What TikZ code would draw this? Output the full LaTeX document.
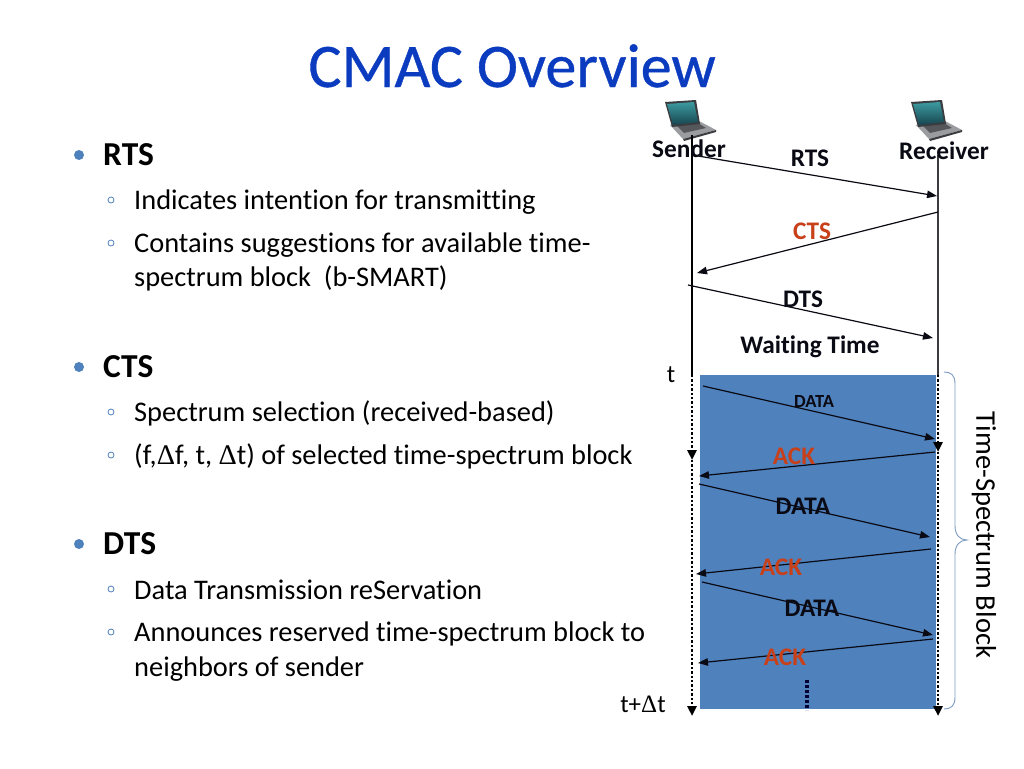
\documentclass[tikz,border=0pt]{standalone}
\usepackage{fontspec}
\setmainfont[Ligatures=NoCommon]{Carlito}
\newfontfamily\deltafont{Liberation Serif}
\newfontfamily\titlefont[Ligatures=NoCommon,FakeBold=0.6]{Carlito}
\usetikzlibrary{arrows.meta}
\definecolor{titleblue}{HTML}{0B3CC0}
\definecolor{blockblue}{HTML}{4F81BD}
\definecolor{ackred}{HTML}{C8401A}
\definecolor{bracegray}{HTML}{7F9CC4}
\definecolor{inkblack}{HTML}{0A0A14}
\definecolor{lapscreen}{HTML}{3C9AA0}
\definecolor{lapscreenb}{HTML}{17454F}
\definecolor{lapbase}{HTML}{9A9C9F}
\definecolor{lapkeys}{HTML}{55575B}
\definecolor{lapdark}{HTML}{3A3C40}
\newcommand{\sz}[1]{\fontsize{#1}{#1}\selectfont}
\newcommand{\dlt}{{\deltafont Δ}}
\tikzset{
  x=1pt,y=-1pt,
  head/.style={inner sep=0,anchor=base west,font=\sz{33.5}\bfseries},
  sub/.style={inner sep=0,anchor=base west,font=\sz{28.4}},
  lab/.style={inner sep=0,anchor=center,font=\sz{25.3}\bfseries,text=inkblack},
  acklab/.style={lab,text=ackred},
  msg/.style={-{Triangle[length=10pt,width=7.5pt]},line width=1.2pt,draw=inkblack},
  life/.style={line width=1.2pt,draw=black},
  lifedash/.style={line width=2.6pt,draw=black,dash pattern=on 2.4pt off 2pt,
    -{Triangle[length=10pt,width=9pt]}},
  big/.style={circle,fill=blockblue,inner sep=0,minimum size=10pt},
  small/.style={circle,draw=blockblue,line width=.8pt,inner sep=0,minimum size=6pt},
}
\newcommand{\laptop}[1]{%
  \begin{scope}[xshift=#1]
    \fill[lapbase] (670,125) -- (699,121) -- (716,130) -- (683,139) -- cycle;
    \fill[lapkeys] (677,126) -- (698,123) -- (706,128) -- (684,133) -- cycle;
    \fill[lapdark] (683,139) -- (716,130) -- (716,132) -- (684,141) -- cycle;
    \fill[lapdark] (665,102) -- (696,100) -- (700,124) -- (672,127) -- cycle;
    \shade[top color=lapscreen,bottom color=lapscreenb] (667,104) -- (694,102) -- (698,122) -- (673,125) -- cycle;
  \end{scope}}
\begin{document}
\begin{tikzpicture}
\useasboundingbox (0,0) rectangle (1024,768);
\fill[white] (0,0) rectangle (1024,768);
\node[inner sep=0,anchor=base,font=\titlefont\sz{62},text=titleblue] (title) at (512,87) {CMAC Overview};

% left column
\node[big] (b1) at (79,155) {};
\node[head] (h1) at (103,165) {RTS};
\node[small] (s11) at (111,200) {};
\node[sub] (t11) at (134,209) {Indicates intention for transmitting};
\node[small] (s12) at (111,243) {};
\node[sub] (t12) at (134,252) {Contains suggestions for available time-};
\node[sub] (t13) at (134,286) {spectrum block\ \ (b-SMART)};
\node[big] (b2) at (79,367) {};
\node[head] (h2) at (103,377) {CTS};
\node[small] (s21) at (111,412) {};
\node[sub] (t21) at (134,421) {Spectrum selection (received-based)};
\node[small] (s22) at (111,455) {};
\node[sub] (t22) at (134,464) {(f,\dlt f, t, \dlt t) of selected time-spectrum block};
\node[big] (b3) at (79,544) {};
\node[head] (h3) at (103,554) {DTS};
\node[small] (s31) at (111,589) {};
\node[sub] (t31) at (134,599) {Data Transmission reServation};
\node[small] (s32) at (111,632) {};
\node[sub] (t32) at (134,641) {Announces reserved time-spectrum block to};
\node[sub] (t33) at (134,676) {neighbors of sender};

% blue block
\fill[blockblue] (700,375) rectangle (936,709);

% laptops
\laptop{0pt}
\laptop{246pt}

% life lines
\coordinate (sTop) at (692,135);
\coordinate (sT) at (692,375);
\coordinate (sMid) at (692,460);
\coordinate (sEnd) at (692,716);
\coordinate (rTop) at (938,155);
\coordinate (rT) at (938,375);
\coordinate (rMid) at (938,452);
\coordinate (rEnd) at (938,716);
\draw[life] (sTop) -- (sT);
\draw[life,draw=lapdark] (rTop) -- (rT);
\draw[lifedash] (sT) -- (sMid);
\draw[lifedash] (rT) -- (rMid);
\draw[lifedash] (sMid) -- (sEnd);
\draw[lifedash] (rMid) -- (rEnd);

% messages
\coordinate (a1) at (692,155); \coordinate (a2) at (937,196);
\coordinate (a3) at (938,212); \coordinate (a4) at (697,273);
\coordinate (a5) at (688,285); \coordinate (a6) at (933,338);
\coordinate (d1a) at (703,386); \coordinate (d1b) at (935,439);
\coordinate (k1a) at (935,452); \coordinate (k1b) at (699,476);
\coordinate (d2a) at (699,484); \coordinate (d2b) at (930,537);
\coordinate (k2a) at (931,549); \coordinate (k2b) at (696,574);
\coordinate (d3a) at (702,582); \coordinate (d3b) at (933,635);
\coordinate (k3a) at (933,639); \coordinate (k3b) at (698,663);
\draw[msg] (a1) -- (a2);
\draw[msg] (a3) -- (a4);
\draw[msg] (a5) -- (a6);
\draw[msg] (d1a) -- (d1b);
\draw[msg] (k1a) -- (k1b);
\draw[msg] (d2a) -- (d2b);
\draw[msg] (k2a) -- (k2b);
\draw[msg] (d3a) -- (d3b);
\draw[msg] (k3a) -- (k3b);

% continuation dots
\coordinate (dotsA) at (807,680);
\coordinate (dotsB) at (807,710);
\draw[line width=3.4pt,draw=black!80!blue,dash pattern=on 3pt off 2pt] (dotsA) -- (dotsB);

% brace
\draw[bracegray,line width=.9pt] (944,372)
  .. controls (951,372) and (955,375) .. (955,384) -- (955,526)
  .. controls (955,535) and (960,540) .. (967,540)
  .. controls (960,540) and (955,545) .. (955,554) -- (955,697)
  .. controls (955,706) and (951,709) .. (944,709);

% labels
\node[lab] (sender) at (689,149) {Sender};
\node[lab] (receiver) at (944,151) {Receiver};
\node[lab] (lrts) at (810,158) {RTS};
\node[acklab] (lcts) at (812,231) {CTS};
\node[lab] (ldts) at (803,299) {DTS};
\node[lab] (lwait) at (810,347) {Waiting Time};
\node[inner sep=0,font=\sz{25}] (lt) at (671,375) {t};
\node[inner sep=0,font=\sz{25}] (ltd) at (643,704) {t+\dlt t};
\node[lab,font=\sz{18.5}\bfseries] (ld1) at (814,401) {DATA};
\node[acklab] (lk1) at (794,456) {ACK};
\node[lab] (ld2) at (803,506) {DATA};
\node[acklab] (lk2) at (781,567) {ACK};
\node[lab] (ld3) at (812,608) {DATA};
\node[acklab] (lk3) at (785,657) {ACK};
\node[inner sep=0,font=\sz{28.5},rotate=-90] (ltsb) at (984,535) {Time-Spectrum Block};
\end{tikzpicture}
\end{document}
